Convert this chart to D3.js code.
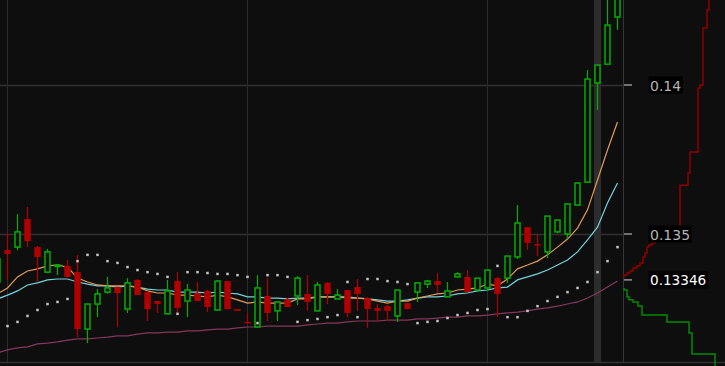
<!DOCTYPE html>
<html>
<head>
<meta charset="utf-8">
<script src="https://cdn.jsdelivr.net/npm/d3@7"></script>
<style>
  html, body { margin: 0; padding: 0; background: #0e0e0e; overflow: hidden; }
  svg { display: block; }
</style>
</head>
<body>
<div id="chart"></div>
<script>
const width = 725,
  height = 366,
  plotRight = 623.5,
  plotBottom = 362;

// candles, oldest first (first one is cut by the left edge)
const opens = [0.13339, 0.13446, 0.13456, 0.13550, 0.13456, 0.13372, 0.13393, 0.13393, 0.13372, 0.13181,
  0.13265, 0.13305, 0.13322, 0.13248, 0.13346, 0.13305, 0.13275, 0.13232, 0.13342, 0.13275,
  0.13302, 0.13309, 0.13245, 0.13342, 0.13248, 0.13205, 0.13188, 0.13292, 0.13242, 0.13282,
  0.13292, 0.13299, 0.13242, 0.13336, 0.13282, 0.13312, 0.13322, 0.13285, 0.13252, 0.13258,
  0.13225, 0.13268, 0.13305, 0.13332, 0.13342, 0.13289, 0.13356, 0.13356, 0.13312, 0.13319,
  0.13352, 0.13352, 0.13423, 0.13523, 0.13466, 0.13440, 0.13507, 0.13500, 0.13597, 0.13674,
  0.14007, 0.14070, 0.14228];
const highs = [0.13426, 0.13503, 0.13567, 0.13591, 0.13460, 0.13450, 0.13399, 0.13413, 0.13430, 0.13265,
  0.13315, 0.13356, 0.13322, 0.13352, 0.13349, 0.13309, 0.13275, 0.13346, 0.13372, 0.13332,
  0.13339, 0.13312, 0.13346, 0.13342, 0.13248, 0.13235, 0.13362, 0.13352, 0.13272, 0.13285,
  0.13359, 0.13362, 0.13339, 0.13339, 0.13315, 0.13312, 0.13349, 0.13289, 0.13265, 0.13262,
  0.13312, 0.13268, 0.13336, 0.13346, 0.13369, 0.13339, 0.13372, 0.13379, 0.13352, 0.13379,
  0.13356, 0.13426, 0.13597, 0.13523, 0.13500, 0.13560, 0.13547, 0.13601, 0.13674, 0.14050,
  0.14067, 0.14302, 0.14352];
const lows = [0.13332, 0.13346, 0.13446, 0.13456, 0.13339, 0.13369, 0.13362, 0.13356, 0.13154, 0.13134,
  0.13221, 0.13299, 0.13188, 0.13235, 0.13295, 0.13208, 0.13235, 0.13232, 0.13235, 0.13221,
  0.13275, 0.13238, 0.13242, 0.13248, 0.13242, 0.13201, 0.13188, 0.13208, 0.13208, 0.13255,
  0.13262, 0.13242, 0.13242, 0.13265, 0.13282, 0.13221, 0.13242, 0.13185, 0.13205, 0.13208,
  0.13205, 0.13248, 0.13272, 0.13319, 0.13302, 0.13289, 0.13356, 0.13305, 0.13309, 0.13309,
  0.13221, 0.13336, 0.13416, 0.13446, 0.13426, 0.13419, 0.13503, 0.13483, 0.13597, 0.13674,
  0.13916, 0.14070, 0.14185];
const closes = [0.13416, 0.13433, 0.13507, 0.13476, 0.13423, 0.13440, 0.13396, 0.13356, 0.13181, 0.13265,
  0.13299, 0.13319, 0.13302, 0.13336, 0.13295, 0.13248, 0.13265, 0.13309, 0.13252, 0.13312,
  0.13275, 0.13255, 0.13342, 0.13248, 0.13242, 0.13201, 0.13319, 0.13235, 0.13272, 0.13255,
  0.13352, 0.13272, 0.13329, 0.13299, 0.13295, 0.13235, 0.13299, 0.13248, 0.13242, 0.13242,
  0.13312, 0.13248, 0.13336, 0.13342, 0.13329, 0.13309, 0.13366, 0.13305, 0.13352, 0.13379,
  0.13299, 0.13426, 0.13537, 0.13470, 0.13463, 0.13560, 0.13547, 0.13601, 0.13671, 0.14020,
  0.14067, 0.14201, 0.14319];

// moving averages, one value per candle
const maFast = [0.13299, 0.13319, 0.13356, 0.13376, 0.13383, 0.13393, 0.13396, 0.13389, 0.13352, 0.13339,
  0.13329, 0.13326, 0.13326, 0.13326, 0.13322, 0.13309, 0.13302, 0.13302, 0.13295, 0.13295,
  0.13292, 0.13289, 0.13295, 0.13289, 0.13279, 0.13268, 0.13272, 0.13268, 0.13268, 0.13268,
  0.13282, 0.13282, 0.13289, 0.13289, 0.13289, 0.13285, 0.13285, 0.13282, 0.13275, 0.13268,
  0.13275, 0.13275, 0.13285, 0.13292, 0.13299, 0.13302, 0.13312, 0.13315, 0.13319, 0.13332,
  0.13326, 0.13349, 0.13383, 0.13396, 0.13409, 0.13430, 0.13456, 0.13483, 0.13520, 0.13581,
  0.13681, 0.13782, 0.13876];
const maMid = [0.13282, 0.13295, 0.13309, 0.13329, 0.13336, 0.13346, 0.13349, 0.13349, 0.13339, 0.13332,
  0.13326, 0.13326, 0.13322, 0.13326, 0.13322, 0.13315, 0.13312, 0.13312, 0.13305, 0.13305,
  0.13305, 0.13302, 0.13305, 0.13302, 0.13299, 0.13289, 0.13289, 0.13285, 0.13285, 0.13282,
  0.13285, 0.13285, 0.13289, 0.13289, 0.13289, 0.13289, 0.13285, 0.13282, 0.13279, 0.13275,
  0.13275, 0.13279, 0.13285, 0.13289, 0.13289, 0.13292, 0.13299, 0.13302, 0.13309, 0.13312,
  0.13319, 0.13322, 0.13346, 0.13356, 0.13366, 0.13379, 0.13396, 0.13413, 0.13440, 0.13480,
  0.13523, 0.13604, 0.13671];
const maSlow = [0.13101, 0.13111, 0.13118, 0.13121, 0.13131, 0.13134, 0.13138, 0.13144, 0.13148, 0.13148,
  0.13151, 0.13154, 0.13158, 0.13158, 0.13164, 0.13168, 0.13168, 0.13171, 0.13171, 0.13175,
  0.13175, 0.13178, 0.13181, 0.13181, 0.13185, 0.13188, 0.13188, 0.13191, 0.13191, 0.13191,
  0.13191, 0.13195, 0.13198, 0.13201, 0.13201, 0.13205, 0.13208, 0.13208, 0.13208, 0.13211,
  0.13211, 0.13211, 0.13215, 0.13215, 0.13218, 0.13221, 0.13221, 0.13225, 0.13225, 0.13228,
  0.13232, 0.13235, 0.13238, 0.13242, 0.13248, 0.13252, 0.13258, 0.13265, 0.13272, 0.13285,
  0.13302, 0.13322, 0.13342];
// parabolic SAR dots
const sar = [null, 0.13191, 0.13205, 0.13225, 0.13245, 0.13265, 0.13272, 0.13282, 0.13409, 0.13430,
  0.13430, 0.13409, 0.13403, 0.13389, 0.13379, 0.13372, 0.13366, 0.13356, 0.13232, 0.13372,
  0.13372, 0.13369, 0.13366, 0.13366, 0.13362, 0.13356, 0.13201, 0.13362, 0.13362, 0.13356,
  0.13205, 0.13211, 0.13215, 0.13221, 0.13228, 0.13339, 0.13221, 0.13349, 0.13349, 0.13342,
  0.13339, 0.13332, 0.13201, 0.13205, 0.13208, 0.13218, 0.13228, 0.13235, 0.13245, 0.13248,
  0.13393, 0.13221, 0.13221, 0.13242, 0.13258, 0.13275, 0.13289, 0.13305, 0.13319, 0.13339,
  0.13372, 0.13409, 0.13456];

// order book depth (price level, cumulative size)
const askPrices = [0.13352, 0.13362, 0.13369, 0.13376, 0.13386, 0.13393, 0.13403, 0.13423, 0.13436, 0.13456,
  0.13463, 0.13470, 0.13480, 0.13507, 0.13664, 0.13705, 0.13775, 0.13990, 0.14000, 0.14191, 0.14252, 0.14302];
const askSizes = [0, 3, 6, 9, 13, 16, 19, 21, 23, 25, 28, 31, 45, 56, 64, 66, 74, 76, 79, 83, 85, 85];
const bidPrices = [0.13319, 0.13312, 0.13289, 0.13279, 0.13272, 0.13258, 0.13228, 0.13205, 0.13168, 0.13097, 0.13057];
const bidSizes = [0, 3, 5, 9, 14, 18, 43, 65, 68, 91, 91];

const priceTicks = [0.135, 0.14];
const lastPrice = 0.13346;
const gridCandles = [1, 25, 49];
const hoverCandle = 60;

const svg = d3.select("#chart")
  .append("svg")
  .attr("width", width)
  .attr("height", height);

svg.append("rect")
  .attr("width", width)
  .attr("height", height)
  .attr("fill", "#0e0e0e");

const xScale = d3.scaleLinear()
  .domain([0, opens.length - 1])
  .range([-2.5, 617.5]);

const yScale = d3.scaleLinear()
  .domain([0.135, 0.14])
  .range([234, 85]);

const sizeScale = d3.scaleLinear()
  .domain([0, 101])
  .range([624, 725]);

// grid
svg.append("g")
  .selectAll("line")
  .data(priceTicks)
  .join("line")
  .attr("x1", 0)
  .attr("x2", plotRight)
  .attr("y1", d => Math.round(yScale(d)) + 0.5)
  .attr("y2", d => Math.round(yScale(d)) + 0.5)
  .attr("stroke", "#313131")
  .attr("stroke-width", 1.5);

svg.append("g")
  .selectAll("line")
  .data(gridCandles)
  .join("line")
  .attr("x1", d => xScale(d))
  .attr("x2", d => xScale(d))
  .attr("y1", 0)
  .attr("y2", plotBottom)
  .attr("stroke", "#2c2c2c");

// highlighted candle column
svg.append("rect")
  .attr("x", xScale(hoverCandle) - 3.5)
  .attr("y", 0)
  .attr("width", 7)
  .attr("height", plotBottom)
  .attr("fill", "#2d2d2d");

// moving averages
const maLine = d3.line()
  .x((d, i) => xScale(i))
  .y(d => yScale(d));

[[maSlow, "#83395b"], [maMid, "#72d2dc"], [maFast, "#e29a58"]].forEach(([vals, color]) => {
  svg.append("path")
    .datum(vals)
    .attr("d", maLine)
    .attr("fill", "none")
    .attr("stroke", color)
    .attr("stroke-width", 1.2);
});

// candles
const candles = opens.map((o, i) => ({ i, o, h: highs[i], l: lows[i], c: closes[i] }));
const green = "#00b000", red = "#b00000";

const cg = svg.append("g")
  .selectAll("g")
  .data(candles)
  .join("g");

cg.append("line")
  .attr("x1", d => xScale(d.i))
  .attr("x2", d => xScale(d.i))
  .attr("y1", d => yScale(d.h))
  .attr("y2", d => yScale(d.l))
  .attr("stroke", d => d.c >= d.o ? green : red)
  .attr("stroke-width", 1.2);

cg.append("rect")
  .attr("x", d => xScale(d.i) - (d.c >= d.o ? 2.5 : 3.25))
  .attr("width", d => d.c >= d.o ? 5 : 6.5)
  .attr("y", d => yScale(Math.max(d.o, d.c)))
  .attr("height", d => Math.max(1.5, Math.abs(yScale(d.o) - yScale(d.c))))
  .attr("fill", d => d.c >= d.o ? "#0e0e0e" : red)
  .attr("stroke", d => d.c >= d.o ? green : "none")
  .attr("stroke-width", 1.5);

// SAR dots
svg.append("g")
  .selectAll("rect")
  .data(sar.map((v, i) => ({ i, v })).filter(d => d.v !== null))
  .join("rect")
  .attr("x", d => xScale(d.i) - 1.25)
  .attr("y", d => yScale(d.v) - 1.25)
  .attr("width", 2.5)
  .attr("height", 2.5)
  .attr("fill", "#c4c4c4");

// frame lines
svg.append("line")
  .attr("x1", plotRight).attr("x2", plotRight)
  .attr("y1", 0).attr("y2", plotBottom)
  .attr("stroke", "#363636");

svg.append("line")
  .attr("x1", 0).attr("x2", width)
  .attr("y1", plotBottom + 0.5).attr("y2", plotBottom + 0.5)
  .attr("stroke", "#333")
  .attr("stroke-width", 1.5);

// depth chart
const depthLine = d3.line()
  .x(d => sizeScale(d[1]))
  .y(d => yScale(d[0]))
  .curve(d3.curveStepBefore);

svg.append("path")
  .datum(askPrices.map((p, i) => [p, askSizes[i]]))
  .attr("d", depthLine)
  .attr("fill", "none")
  .attr("stroke", "#900000")
  .attr("stroke-width", 1.5);

svg.append("path")
  .datum(bidPrices.map((p, i) => [p, bidSizes[i]]))
  .attr("d", depthLine)
  .attr("fill", "none")
  .attr("stroke", "#008a00")
  .attr("stroke-width", 1.5);

// price axis
const labels = [
  { p: priceTicks[0], text: "0.135", last: false },
  { p: priceTicks[1], text: "0.14", last: false },
  { p: lastPrice, text: "0.13346", last: true }
];

svg.append("g")
  .selectAll("line")
  .data(labels)
  .join("line")
  .attr("x1", 624)
  .attr("x2", 632)
  .attr("y1", d => yScale(d.p))
  .attr("y2", d => yScale(d.p))
  .attr("stroke", "#a8a8a8")
  .attr("stroke-width", 1.3);

const boxes = svg.append("g");
const texts = svg.append("g")
  .selectAll("text")
  .data(labels)
  .join("text")
  .attr("x", 650)
  .attr("y", d => yScale(d.p) + 5.5)
  .attr("font-family", "DejaVu Sans, sans-serif")
  .attr("font-size", d => d.last ? 13.6 : 14)
  .attr("fill", d => d.last ? "#ffffff" : "#b4b4b4")
  .text(d => d.text);

texts.each(function(d) {
  const w = this.getComputedTextLength();
  boxes.append("rect")
    .attr("x", 648.5)
    .attr("y", yScale(d.p) - 8.5)
    .attr("width", w + 3)
    .attr("height", 17)
    .attr("fill", "#000");
});
</script>
</body>
</html>
